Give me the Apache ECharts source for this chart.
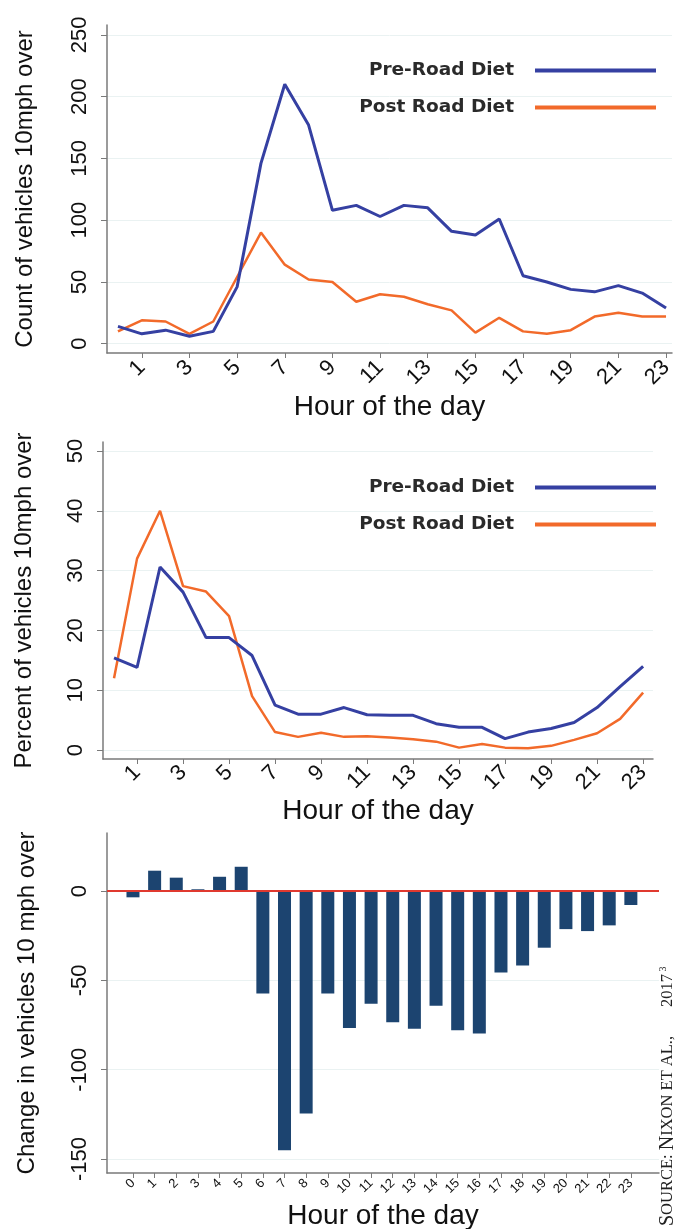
<!DOCTYPE html>
<html>
<head>
<meta charset="utf-8">
<script src="https://cdn.jsdelivr.net/npm/echarts@6/dist/echarts.min.js"></script>
<style>
  html, body { margin: 0; padding: 0; background: #fff; }
  #chart { width: 676px; height: 1229px; }
</style>
</head>
<body>
<div id="chart"></div>
<script>
// hours of the day
var hours = [0, 1, 2, 3, 4, 5, 6, 7, 8, 9, 10, 11, 12, 13, 14, 15, 16, 17, 18, 19, 20, 21, 22, 23];
var oddHours = [1, 3, 5, 7, 9, 11, 13, 15, 17, 19, 21, 23];

// panel 1: count of vehicles 10mph over
var preCount = [14, 8, 11, 6, 10, 46, 146, 210, 177, 108, 112, 103, 112, 110, 91, 88, 101, 55, 50, 44, 42, 47, 41, 29];
var postCount = [10, 19, 18, 8, 18, 54, 90, 64, 52, 50, 34, 40, 38, 32, 27, 9, 21, 10, 8, 11, 22, 25, 22, 22];
var countTicks = [0, 50, 100, 150, 200, 250];

// panel 2: percent of vehicles 10mph over
var prePct = [15.4, 13.8, 30.6, 26.4, 18.8, 18.8, 15.8, 7.5, 6, 6, 7.1, 5.9, 5.8, 5.8, 4.4, 3.8, 3.8, 1.9, 3.0, 3.6, 4.6, 7.1, 10.6, 14];
var postPct = [12, 32, 40, 27.4, 26.5, 22.4, 9, 3, 2.2, 2.9, 2.2, 2.3, 2.1, 1.8, 1.4, 0.4, 1.0, 0.4, 0.3, 0.7, 1.7, 2.8, 5.2, 9.6];
var pctTicks = [0, 10, 20, 30, 40, 50];

// panel 3: change in vehicles 10 mph over
var change = [-3.5, 11.4, 7.5, 1, 8, 13.6, -57.3, -145, -124.5, -57.3, -76.6, -63, -73.4, -77, -64.2, -77.9, -79.7, -45.6, -41.6, -31.7, -21.3, -22.4, -19.2, -7.8];
var changeTicks = [-150, -100, -50, 0];

var BLUE = '#3540a2';
var ORANGE = '#f26a2a';
var NAVY = '#1c4470';
var AXIS = '#7a7a7a';
var FONT = 'Liberation Sans';

function pairs(ys) {
  return hours.map(function (h, i) { return [h, ys[i]]; });
}

function xAxis(grid, min, max, ticks, labelSize, margin, nameGap) {
  return {
    type: 'value', gridIndex: grid, min: min, max: max,
    name: 'Hour of the day', nameLocation: 'middle', nameGap: nameGap,
    nameTextStyle: { fontFamily: FONT, fontSize: 28, color: '#111' },
    axisLine: { show: true, onZero: false, lineStyle: { color: AXIS, width: 1.5 } },
    axisTick: { show: true, length: 5, customValues: ticks, lineStyle: { color: AXIS } },
    axisLabel: { customValues: ticks, rotate: 45, margin: margin, fontFamily: FONT, fontSize: labelSize, color: '#111' },
    splitLine: { show: false }
  };
}

function yAxis(grid, min, max, ticks, name, nameGap) {
  return {
    type: 'value', gridIndex: grid, min: min, max: max,
    name: name, nameLocation: 'middle', nameGap: nameGap,
    nameTextStyle: { fontFamily: FONT, fontSize: 24, color: '#111' },
    axisLine: { show: true, onZero: false, lineStyle: { color: AXIS, width: 1.5 } },
    axisTick: { show: true, length: 6, customValues: ticks, lineStyle: { color: AXIS } },
    axisLabel: { customValues: ticks, rotate: 90, margin: 16, fontFamily: FONT, fontSize: 22, color: '#111' },
    splitLine: { show: true, lineStyle: { color: '#eaf2f2', width: 1 } }
  };
}

function legendItem(name, top, color) {
  return {
    data: [{ name: name, itemStyle: { color: color } }],
    orient: 'vertical', align: 'right', right: 15, top: top,
    icon: 'rect', itemWidth: 121, itemHeight: 4,
    textStyle: { fontFamily: 'DejaVu Sans', fontWeight: 'bold', fontSize: 18.5, color: '#2a2a2a', padding: [0, 16, 0, 0] }
  };
}

var chart = echarts.init(document.getElementById('chart'));

chart.setOption({
  animation: false,
  backgroundColor: '#fff',
  grid: [
    { left: 107, right: 4, top: 25, height: 328, outerBoundsMode: 'none', containLabel: false },
    { left: 103, right: 23, top: 442, height: 317, outerBoundsMode: 'none', containLabel: false },
    { left: 107, right: 17, top: 833, height: 340, outerBoundsMode: 'none', containLabel: false }
  ],
  legend: [
    legendItem('Pre-Road Diet', 56, BLUE),
    legendItem('Post Road Diet', 93, ORANGE),
    legendItem('Pre-Road Diet', 473, BLUE),
    legendItem('Post Road Diet', 510, ORANGE)
  ],
  xAxis: [
    xAxis(0, -0.46, 23.25, oddHours, 22, 11, 40),
    xAxis(1, -0.48, 23.43, oddHours, 22, 10, 30),
    xAxis(2, -1.2, 24.3, hours, 13, 8, 29)
  ],
  yAxis: [
    yAxis(0, -7.5, 258, countTicks, 'Count of vehicles 10mph over', 70),
    yAxis(1, -1.5, 51.5, pctTicks, 'Percent of vehicles 10mph over', 67),
    yAxis(2, -157.8, 32.5, changeTicks, 'Change in vehicles 10 mph over', 68)
  ],
  series: [
    { name: 'Pre-Road Diet', type: 'line', xAxisIndex: 0, yAxisIndex: 0, data: pairs(preCount),
      showSymbol: false, lineStyle: { color: BLUE, width: 3 }, itemStyle: { color: BLUE }, z: 3 },
    { name: 'Post Road Diet', type: 'line', xAxisIndex: 0, yAxisIndex: 0, data: pairs(postCount),
      showSymbol: false, lineStyle: { color: ORANGE, width: 2.5 }, itemStyle: { color: ORANGE }, z: 2 },
    { name: 'Pre-Road Diet', type: 'line', xAxisIndex: 1, yAxisIndex: 1, data: pairs(prePct),
      showSymbol: false, lineStyle: { color: BLUE, width: 3 }, itemStyle: { color: BLUE }, z: 3 },
    { name: 'Post Road Diet', type: 'line', xAxisIndex: 1, yAxisIndex: 1, data: pairs(postPct),
      showSymbol: false, lineStyle: { color: ORANGE, width: 2.5 }, itemStyle: { color: ORANGE }, z: 2 },
    { name: 'Change', type: 'bar', xAxisIndex: 2, yAxisIndex: 2, data: pairs(change),
      barWidth: 13, itemStyle: { color: NAVY },
      markLine: {
        silent: true, symbol: 'none', label: { show: false },
        lineStyle: { color: '#e0392f', width: 2, type: 'solid' },
        data: [{ yAxis: 0 }]
      } }
  ],
  graphic: [{
    type: 'text', x: 668, y: 1226, rotation: Math.PI / 2,
    style: {
      text: '{b|S}{s|OURCE: }{b|N}{s|IXON ET AL.,       2017}{sup| 3}',
      textAlign: 'left', textVerticalAlign: 'middle',
      rich: {
        b: { fontFamily: 'Liberation Serif', fontSize: 20, fill: '#222' },
        s: { fontFamily: 'Liberation Serif', fontSize: 16.5, fill: '#222' },
        sup: { fontFamily: 'Liberation Serif', fontSize: 10, fill: '#222', verticalAlign: 'top' }
      }
    }
  }]
});
</script>
</body>
</html>
